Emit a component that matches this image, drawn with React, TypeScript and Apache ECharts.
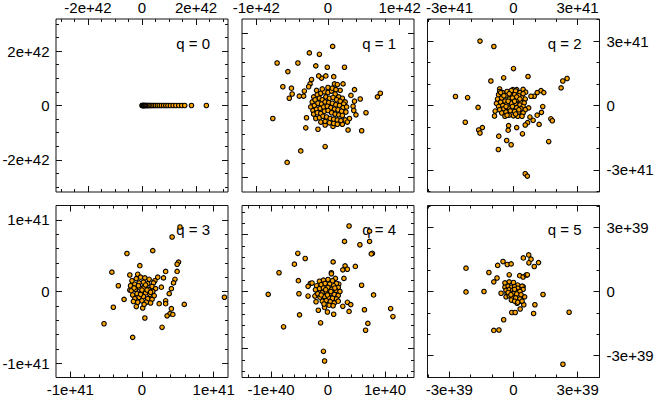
import React, { useEffect, useRef } from 'react';
import * as echarts from 'echarts';

// Panel titles
const panelTitles = ['q = 0', 'q = 1', 'q = 2', 'q = 3', 'q = 4', 'q = 5'];
// Unit of each panel's values
const panelUnits = [1e42, 1e42, 1e41, 1e41, 1e40, 1e39];
// Half-range of each axis (in panel units)
const panelRanges = [3.18, 1.2, 4.03, 1.2, 1.51, 4.02];
// Labelled (major) tick values, in panel units
const majorTicks = [[-2, 0, 2], [-1, 0, 1], [-3, 0, 3], [-1, 0, 1], [-1, 0, 1], [-3, 0, 3]];
// Minor tick step, in panel units
const minorSteps = [0.5, 0.2, 1, 0.2, 0.2, 1];

// q = 0 (units 1e42)
const q0Points = [
  [0, 0], [0.02, 0], [0.04, 0], [0.06, 0], [0.08, 0], [0.1, 0], [0.13, 0], [0.16, 0], [0.2, 0], [0.24, 0],
  [0.28, 0], [0.33, 0], [0.38, 0], [0.44, 0], [0.5, 0], [0.57, 0], [0.64, 0], [0.72, 0], [0.8, 0], [0.88, 0],
  [0.96, 0], [1.05, 0], [1.15, 0], [1.25, 0], [1.36, 0], [1.47, 0], [1.58, 0], [1.83, 0], [2.38, 0],
];

// q = 1 (units 1e42)
const q1Points = [
  [0.065, 0.82], [-0.26, 0.73], [-0.12, 0.71], [-0.71, 0.59], [-0.42, 0.59], [-0.56, 0.47], [-0.17, 0.55],
  [-0.01, 0.53], [0.23, 0.53], [-0.63, 0.26], [-0.51, 0.24], [-0.5, 0.16], [-0.54, 0.1], [-0.4, 0.13],
  [-0.34, 0.13], [-0.33, 0.2], [0.08, 0.4], [-0.03, 0.41], [-0.09, 0.38], [-0.13, 0.41], [-0.23, 0.36],
  [-0.25, 0.3], [-0.27, 0.26], [0.09, 0.3], [0.13, 0.29], [0.21, 0.3], [0.37, 0.22], [0.17, 0.21],
  [0.32, 0.14], [0.45, 0.09], [0.37, 0.06], [0.35, -0.01], [0.36, -0.07], [0.39, -0.13], [0.69, 0.12],
  [0.73, 0.17], [0.53, -0.1], [-0.77, -0.18], [-0.3, -0.17], [-0.31, -0.31], [-0.14, -0.33], [-0.04, -0.27],
  [0.07, -0.29], [0.28, -0.34], [0.47, -0.35], [0.2, -0.26], [0.3, -0.18], [0.24, -0.2], [0.27, -0.23],
  [-0.04, -0.57], [-0.38, -0.63], [-0.57, -0.79],
  [-0.2, 0.12], [-0.15, 0.15], [-0.1, 0.17], [-0.05, 0.19], [0, 0.18], [0.05, 0.2], [0.1, 0.16], [0.15, 0.12],
  [0.2, 0.1], [0.24, 0.05], [-0.22, 0.05], [-0.18, 0.08], [-0.12, 0.1], [-0.08, 0.08], [-0.03, 0.12],
  [0.02, 0.1], [0.07, 0.11], [0.12, 0.08], [0.17, 0.06], [0.22, 0.02], [-0.24, -0.02], [-0.19, 0.0],
  [-0.14, 0.03], [-0.09, 0.02], [-0.04, 0.05], [0.01, 0.04], [0.06, 0.03], [0.11, 0.01], [0.16, 0.0],
  [0.21, -0.03], [0.26, -0.02], [-0.21, -0.07], [-0.16, -0.05], [-0.11, -0.04], [-0.06, -0.02], [-0.01, -0.01],
  [0.04, -0.03], [0.09, -0.05], [0.14, -0.06], [0.19, -0.08], [0.25, -0.09], [-0.2, -0.12], [-0.15, -0.1],
  [-0.1, -0.11], [-0.05, -0.08], [0.0, -0.07], [0.05, -0.1], [0.1, -0.12], [0.15, -0.13], [0.2, -0.14],
  [-0.17, -0.18], [-0.12, -0.17], [-0.07, -0.15], [-0.02, -0.16], [0.03, -0.18], [0.08, -0.19], [0.13, -0.2],
  [0.18, -0.21], [-0.1, -0.23], [-0.04, -0.22], [0.02, -0.24], [0.08, -0.25], [0.13, -0.26], [-0.08, 0.23],
  [0.0, 0.25], [0.06, 0.24], [-0.16, 0.21], [0.11, 0.22],
];

// q = 2 (units 1e41)
const q2Points = [
  [-1.57, 3.0], [-0.92, 2.75], [0, 1.72], [-1.06, 1.14], [-0.46, 1.29], [0.68, 1.35], [2.51, 1.26], [2.31, 1.14],
  [2.23, 0.82], [-2.72, 0.42], [-2.15, 0.37], [-1.66, -0.09], [-2.26, -0.78], [-1.46, -1.03], [-1.63, -1.14],
  [-1.57, -1.28], [-0.69, -1.43], [-0.32, -1.63], [-0.11, -1.83], [-0.71, -2.05], [0.42, -1.32], [1.65, -1.68],
  [0.55, -3.18], [0.65, -3.29], [1.75, -0.62], [1.82, -0.71], [1.37, -0.05], [1.31, -0.32], [1.11, -0.45],
  [1.2, -0.88], [0.92, -0.69], [0.77, -0.54], [0.66, -0.8], [0.55, -0.91], [0.15, -1.03], [-0.23, -0.94],
  [-0.25, -1.15], [-0.89, -0.49], [-0.86, -0.26], [1.29, 0.69], [1.42, 0.6], [1.11, 0.6], [0.97, 0.43],
  [0.82, 0.43], [0.45, 0.75], [0.57, 0.62], [-0.65, 0.77], [-0.65, 0.65], [0.15, 0.74], [-0.03, 0.74], [0.71, -0.11],
  [-0.7, 0.5], [-0.5, 0.6], [-0.3, 0.65], [-0.1, 0.7], [0.1, 0.68], [0.3, 0.6], [0.45, 0.55],
  [-0.75, 0.3], [-0.55, 0.35], [-0.35, 0.45], [-0.15, 0.5], [0.05, 0.5], [0.25, 0.45], [0.4, 0.35], [0.55, 0.3],
  [-0.8, 0.1], [-0.6, 0.15], [-0.4, 0.2], [-0.2, 0.3], [0, 0.3], [0.2, 0.25], [0.35, 0.18], [0.5, 0.12],
  [-0.7, -0.05], [-0.5, 0.0], [-0.3, 0.08], [-0.1, 0.12], [0.1, 0.1], [0.3, 0.02], [0.45, -0.05],
  [-0.65, -0.2], [-0.45, -0.15], [-0.25, -0.1], [-0.05, -0.05], [0.15, -0.1], [0.35, -0.15], [0.55, -0.2],
  [-0.55, -0.35], [-0.35, -0.3], [-0.15, -0.25], [0.05, -0.28], [0.25, -0.3], [0.45, -0.35],
  [-0.4, -0.5], [-0.2, -0.45], [0, -0.48], [0.2, -0.5], [0.4, -0.5],
  [-0.6, 0.6], [-0.2, 0.55], [0.15, 0.4], [-0.45, 0.45], [-0.05, 0.35], [0.3, 0.3], [-0.3, -0.45], [0.1, -0.4],
  [-0.25, 0.2], [0.05, 0.2], [-0.35, -0.05], [0.25, -0.2],
];

// q = 3 (units 1e41)
const q3Points = [
  [0.53, 0.9], [0.42, 0.76], [0.15, 0.57], [-0.21, 0.53], [-0.03, 0.36], [-0.42, 0.27], [-0.17, 0.23],
  [-0.06, 0.24], [-0.33, 0.08], [-0.25, -0.11], [-0.4, -0.22], [-0.53, -0.45], [-0.13, -0.64], [0.04, -0.37],
  [0.28, -0.5], [0.51, 0.41], [0.49, 0.38], [0.49, 0.28], [0.46, 0.17], [0.44, 0.12], [0.41, 0.04], [0.38, -0.03],
  [0.33, 0.28], [0.3, 0.19], [0.27, 0.06], [0.22, 0.2], [0.18, 0.15], [0.33, -0.13], [0.33, -0.17], [0.24, -0.17],
  [0.41, -0.24], [0.39, -0.31], [0.43, -0.32], [0.35, -0.34], [0.59, -0.18], [1.15, -0.08], [-0.08, -0.21],
  [0.01, -0.23], [-0.17, 0.02],
  [-0.14, 0.15], [-0.08, 0.18], [-0.02, 0.2], [0.04, 0.19], [0.1, 0.17], [0.16, 0.12],
  [-0.16, 0.08], [-0.1, 0.1], [-0.04, 0.12], [0.02, 0.13], [0.08, 0.11], [0.14, 0.07], [0.19, 0.04],
  [-0.15, 0.01], [-0.09, 0.03], [-0.03, 0.05], [0.03, 0.06], [0.09, 0.03], [0.15, 0.0],
  [-0.13, -0.05], [-0.07, -0.03], [-0.01, -0.01], [0.05, -0.02], [0.11, -0.04], [0.17, -0.06],
  [-0.1, -0.1], [-0.04, -0.08], [0.02, -0.07], [0.08, -0.1], [0.14, -0.11],
  [-0.06, -0.15], [0.0, -0.13], [0.06, -0.15], [0.12, -0.16], [-0.12, -0.14], [0.03, -0.18],
  [-0.05, 0.08], [0.05, 0.09], [-0.02, -0.04], [0.07, 0.02], [-0.11, 0.05], [0.12, -0.01], [0.0, 0.02],
];

// q = 4 (units 1e40)
const q4Points = [
  [0.37, 1.15], [0.73, 1.06], [0.29, 0.88], [0.73, 0.88], [0.56, 0.82], [0.78, 0.67], [0.76, 0.66],
  [-0.53, 0.67], [-0.4, 0.58], [-0.59, 0.48], [0.09, 0.52], [-0.86, 0.33], [0.3, 0.45], [0.26, 0.38],
  [0.34, 0.39], [0.48, 0.44], [0.06, 0.33], [0.06, 0.31], [0.13, 0.23], [0.28, 0.23], [-0.52, 0.19],
  [-0.31, 0.14], [-0.28, 0.15], [-0.35, 0.09], [0.59, 0.11], [-1.05, -0.05], [-0.51, -0.04], [-0.35, -0.08],
  [0.8, -0.06], [0.26, -0.26], [0.34, -0.19], [0.4, -0.23], [0.37, -0.35], [0.1, -0.4], [-0.01, -0.36],
  [-0.17, -0.33], [-0.06, -0.28], [-0.5, -0.41], [-0.13, -0.55], [-0.78, -0.62], [0.64, -0.32], [0.7, -0.56],
  [0.66, -0.68], [1.1, -0.3], [1.14, -0.44], [-0.08, -1.05], [-0.06, -1.22], [-0.2, -0.06], [-0.23, -0.08],
  [-0.21, -0.18], [0.19, 0.13],
  [-0.15, 0.18], [-0.08, 0.2], [0.0, 0.21], [0.08, 0.19], [0.15, 0.14],
  [-0.2, 0.1], [-0.12, 0.12], [-0.05, 0.14], [0.03, 0.13], [0.1, 0.1], [0.18, 0.07],
  [-0.22, 0.03], [-0.15, 0.05], [-0.08, 0.06], [0.0, 0.07], [0.07, 0.04], [0.14, 0.02], [0.21, 0.0],
  [-0.18, -0.04], [-0.1, -0.02], [-0.03, -0.01], [0.04, -0.03], [0.11, -0.05], [0.18, -0.07],
  [-0.14, -0.1], [-0.06, -0.09], [0.01, -0.1], [0.08, -0.12], [0.15, -0.13],
  [-0.1, -0.17], [-0.03, -0.16], [0.04, -0.18], [0.11, -0.2], [0.18, -0.17],
  [-0.07, -0.22], [0.02, -0.24], [0.09, -0.25],
  [-0.04, 0.03], [0.05, 0.0], [-0.12, -0.06], [0.12, 0.06], [-0.01, -0.06],
];

// q = 5 (units 1e39)
const q5Points = [
  [-2.22, 1.09], [-2.22, -0.02], [-1.38, 0], [-1.15, 0.89], [-0.74, 1.22], [-0.49, 1.4], [-0.29, 1.26],
  [-0.11, 1.29], [0.46, 1.57], [0.71, 1.71], [0.82, 1.51], [0.72, 1.34], [0.97, 1.17], [1.17, 1.35],
  [-0.2, 0.78], [-0.77, 0.63], [-0.92, 0.45], [0.29, 0.74], [0.45, 0.68], [0.6, 0.77], [0.65, 0.78],
  [-0.58, -0.08], [1.38, -0.14], [1.0, -0.62], [0.94, -1.03], [2.6, -0.97], [-0.08, -0.98], [0.08, -0.98],
  [0.31, -0.82], [0.48, -0.62], [0.17, -0.55], [-0.46, -1.32], [-0.92, -1.82], [-0.68, -1.8], [2.31, -3.4],
  [0.45, 0.23], [0.35, 0.11], [0.52, -0.25], [0.35, -0.45],
  [-0.4, 0.4], [-0.2, 0.45], [0.0, 0.42], [0.2, 0.3], [0.4, 0.25],
  [-0.4, 0.2], [-0.25, 0.25], [-0.1, 0.2], [0.05, 0.22], [0.2, 0.15], [0.45, 0.1],
  [-0.35, 0.05], [-0.2, 0.08], [-0.05, 0.05], [0.1, 0.02], [0.3, 0.0],
  [-0.3, -0.1], [-0.15, -0.08], [0.0, -0.1], [0.15, -0.12], [0.35, -0.15],
  [-0.35, -0.25], [-0.2, -0.2], [-0.05, -0.25], [0.1, -0.3], [0.3, -0.35],
  [-0.1, -0.4], [0.05, -0.45], [0.2, -0.5], [0.4, -0.45],
  [-0.25, -0.05], [0.05, 0.1], [-0.12, -0.15],
];

const panelPoints = [q0Points, q1Points, q2Points, q3Points, q4Points, q5Points];

const FONT = 'Liberation Sans, Arial, Helvetica, sans-serif';
const colLefts = [56, 242, 427.5];
const rowTops = [19, 205.5];
const panelW = 172;
const rowHeights = [173, 172];

const fmt = (v: number) => (Math.abs(v) < 1e-300 ? '0' : Number(v).toExponential(0));

function buildOption() {
  const grid: any[] = [];
  const xAxis: any[] = [];
  const yAxis: any[] = [];
  const series: any[] = [];
  const graphic: any[] = [];

  panelPoints.forEach((pts, i) => {
    const r = Math.floor(i / 3);
    const c = i % 3;
    const left = colLefts[c];
    const top = rowTops[r];
    const h = rowHeights[r];
    const unit = panelUnits[i];
    const R = panelRanges[i] * unit;
    const majors = majorTicks[i].map((v) => v * unit);
    const step = minorSteps[i];
    const n = Math.floor(panelRanges[i] / step + 1e-9);
    const minors: number[] = [];
    for (let k = -n; k <= n; k++) minors.push(k * step * unit);

    grid.push({
      left, top, width: panelW, height: h,
      show: true, borderColor: '#111', borderWidth: 1, backgroundColor: 'transparent',
      containLabel: false, outerBoundsMode: 'none',
    });

    const mk = (pos: string, major: boolean, showLabel: boolean) => {
      const isX = pos === 'top' || pos === 'bottom';
      return {
        type: 'value', gridIndex: i, min: -R, max: R, position: pos,
        axisLine: { show: false, onZero: false },
        splitLine: { show: false },
        axisTick: {
          show: true, inside: true, length: major ? 6 : 3,
          customValues: major ? majors : minors,
          lineStyle: { color: '#111', width: 1 },
        },
        axisLabel: {
          show: major && showLabel, customValues: majors, formatter: fmt,
          fontFamily: FONT, fontSize: 15, lineHeight: 15, color: '#000',
          margin: isX ? 4 : (pos === 'left' ? 6.5 : 7),
          showMinLabel: true, showMaxLabel: true,
        },
      };
    };

    const xBase = xAxis.length;
    xAxis.push(mk('bottom', true, r === 1), mk('bottom', false, false), mk('top', true, r === 0), mk('top', false, false));
    const yBase = yAxis.length;
    yAxis.push(mk('left', true, c === 0), mk('left', false, false), mk('right', true, c === 2), mk('right', false, false));

    series.push({
      type: 'scatter', xAxisIndex: xBase, yAxisIndex: yBase,
      data: pts.map(([x, y]) => [x * unit, y * unit]),
      symbol: 'circle', symbolSize: 4.5,
      itemStyle: { color: '#FFA500', borderColor: '#000', borderWidth: 1.1, opacity: 1 },
      z: 3,
    });

    graphic.push({
      type: 'text', x: left + panelW - 18, y: top + 24, z: 1,
      style: {
        text: panelTitles[i], font: `15px ${FONT}`, fill: '#000',
        align: 'right', verticalAlign: 'middle', textAlign: 'right', textVerticalAlign: 'middle',
      },
    });
  });

  return { animation: false, backgroundColor: '#fff', grid, xAxis, yAxis, series, graphic };
}

export default function App() {
  const ref = useRef<HTMLDivElement>(null);
  useEffect(() => {
    if (!ref.current) return;
    const chart = echarts.init(ref.current, undefined, { renderer: 'svg' });
    chart.setOption(buildOption() as any);
    return () => chart.dispose();
  }, []);
  return <div ref={ref} style={{ position: 'fixed', left: 0, top: 0, width: 656, height: 398 }} />;
}
